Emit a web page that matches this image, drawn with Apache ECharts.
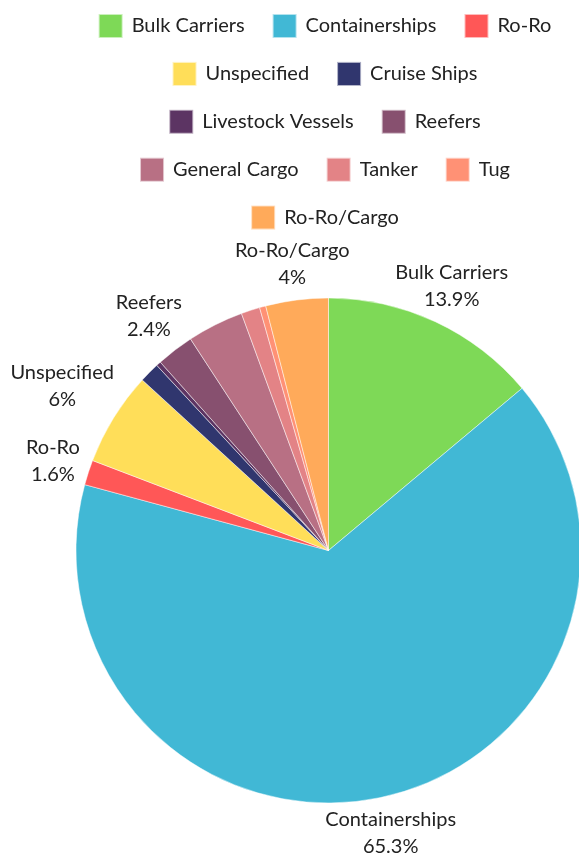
<!DOCTYPE html>
<html>
<head>
<meta charset="utf-8">
<script src="https://cdn.jsdelivr.net/npm/echarts@6/dist/echarts.min.js"></script>
<style>
  html, body { margin: 0; padding: 0; overflow: hidden; background: #fff; }
  #chart { width: 649px; height: 859px; }
</style>
</head>
<body>
<div id="chart"></div>
<script>
// ---- data ----
const shipTypes = ["Bulk Carriers", "Containerships", "Ro-Ro", "Unspecified", "Cruise Ships",
  "Livestock Vessels", "Reefers", "General Cargo", "Tanker", "Tug", "Ro-Ro/Cargo"];
const shares = [13.9, 65.3, 1.6, 6.0, 1.3, 0.3, 2.4, 3.6, 1.2, 0.4, 4.0];
const colors = ["#7ed957", "#41b8d5", "#ff5757", "#ffde59", "#30366e",
  "#5c3463", "#87506f", "#b87084", "#e38386", "#ff9175", "#ffaa5a"];
const labeledTypes = ["Bulk Carriers", "Containerships", "Ro-Ro", "Unspecified", "Reefers", "Ro-Ro/Cargo"];
const legendRows = [
  ["Bulk Carriers", "Containerships", "Ro-Ro"],
  ["Unspecified", "Cruise Ships"],
  ["Livestock Vessels", "Reefers"],
  ["General Cargo", "Tanker", "Tug"],
  ["Ro-Ro/Cargo"]
];

// ---- layout ----
const CX = 328.5, CY = 550.5, R = 252.5, GAP = 9;
const FONT = "Lato, 'Noto Sans', sans-serif";
const total = shares.reduce((a, b) => a + b, 0);
const cum = [];
shares.reduce((acc, v, i) => { cum[i] = acc; return acc + v; }, 0);

const chart = echarts.init(document.getElementById('chart'), null, { renderer: 'canvas' });

const legends = legendRows.map((row, i) => ({
  data: row,
  top: 13 + i * 47.9,
  left: 'center',
  padding: 0,
  orient: 'horizontal',
  icon: 'rect',
  itemWidth: 24,
  itemHeight: 24,
  itemGap: 27,
  selectedMode: false,
  textStyle: { fontFamily: FONT, fontSize: 20, color: '#222', padding: [0, 0, 0, 4] }
}));

chart.setOption({
  animation: false,
  color: colors,
  legend: legends,
  series: [{
    type: 'pie',
    center: [CX, CY],
    radius: [0, R],
    startAngle: 90,
    clockwise: true,
    avoidLabelOverlap: false,
    percentPrecision: 1,
    itemStyle: { borderColor: 'rgba(255,255,255,0.6)', borderWidth: 0.8 },
    emphasis: { disabled: true },
    label: {
      show: true,
      position: 'outside',
      fontFamily: FONT,
      fontSize: 20,
      lineHeight: 27,
      color: '#222',
      align: 'center',
      formatter: p => p.name + '\n' + p.percent + '%'
    },
    labelLine: { show: false },
    labelLayout: function (p) {
      const i = p.dataIndex;
      const mid = (cum[i] + shares[i] / 2) / total * 2 * Math.PI;
      const vx = Math.sin(mid), vy = -Math.cos(mid);
      const w = p.labelRect.width, h = p.labelRect.height;
      const dEdge = Math.min(w / 2 / Math.max(Math.abs(vx), 1e-6), h / 2 / Math.max(Math.abs(vy), 1e-6));
      const d = R + GAP + dEdge;
      return { x: CX + vx * d, y: CY + vy * d, align: 'center', verticalAlign: 'middle' };
    },
    data: shipTypes.map((name, i) => ({
      name: name,
      value: shares[i],
      label: { show: labeledTypes.indexOf(name) >= 0 }
    }))
  }]
});
</script>
</body>
</html>
